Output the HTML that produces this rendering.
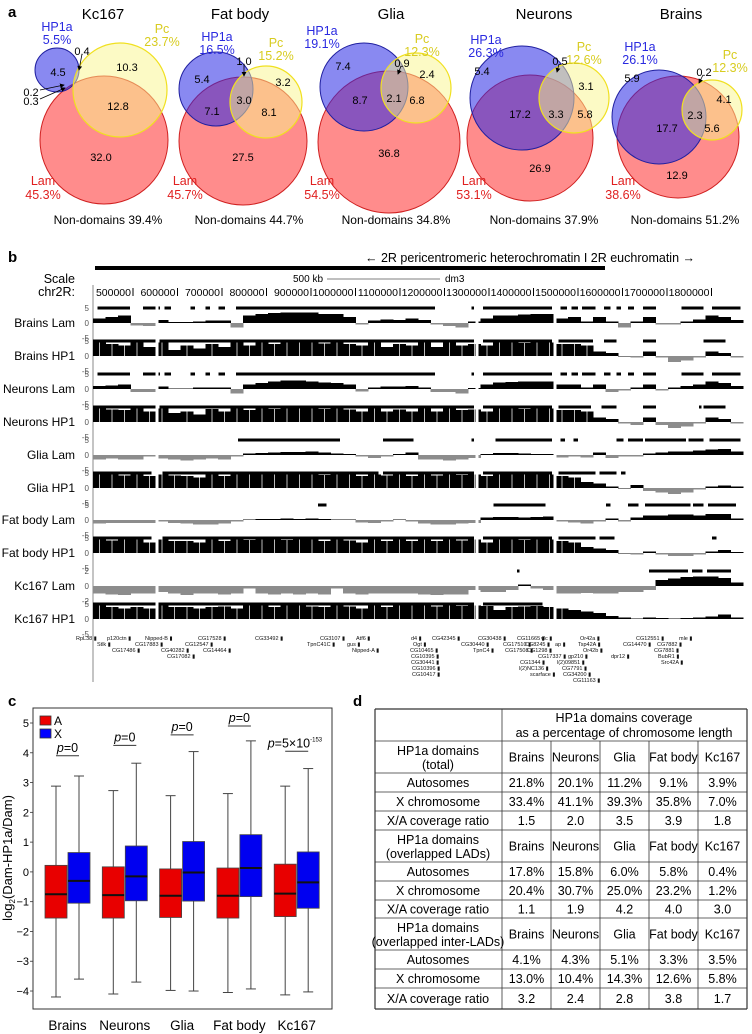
<!DOCTYPE html>
<html><head><meta charset="utf-8"><style>
body{margin:0;background:#fff;}
svg{display:block;font-family:"Liberation Sans",Arial,sans-serif;}
</style></head><body>
<svg id="fig" width="752" height="1034" viewBox="0 0 752 1034" xmlns="http://www.w3.org/2000/svg">
<defs><marker id="ah" markerWidth="6" markerHeight="6" refX="5" refY="3" orient="auto"><path d="M0,0 L6,3 L0,6 z" fill="#000"/></marker></defs>
<g>
<text x="8" y="17" font-size="15" font-weight="bold">a</text>
<g font-size="15" text-anchor="middle">
<text x="103" y="19">Kc167</text>
<text x="240" y="19">Fat body</text>
<text x="391" y="19">Glia</text>
<text x="544" y="19">Neurons</text>
<text x="681" y="19">Brains</text>
</g>
<g id="venns"></g>
</g>
<g>
<text x="8" y="262" font-size="15" font-weight="bold">b</text>
<rect x="95" y="266" width="510" height="4" fill="#000"/>
<text x="365" y="262" font-size="12.5">←  2R pericentromeric heterochromatin  I  2R euchromatin  →</text>
<text x="75" y="283" font-size="12.5" text-anchor="end">Scale</text>
<text x="75" y="296" font-size="12.5" text-anchor="end">chr2R:</text>
<text x="293" y="282" font-size="10">500 kb</text>
<line x1="327" y1="279" x2="440" y2="279" stroke="#555" stroke-width="0.8"/>
<text x="445" y="282" font-size="10">dm3</text>
<line x1="93" y1="285" x2="93" y2="682" stroke="#888" stroke-width="1"/>
<g id="tracks" shape-rendering="crispEdges"></g>
<g id="genes" font-size="5.5" fill="#111"></g>
</g>
<g>
<text x="8" y="706" font-size="15" font-weight="bold">c</text>
<rect x="33" y="708" width="299" height="301" fill="none" stroke="#333" stroke-width="1"/>
<text transform="translate(12,858) rotate(-90)" font-size="13" text-anchor="middle">log<tspan font-size="8" dy="3">2</tspan><tspan dy="-3">(Dam-HP1a/Dam)</tspan></text>
<g id="boxes"></g>
<g>
<rect x="40" y="716" width="11" height="9" fill="#e00" stroke="#333" stroke-width="0.8"/>
<text x="54" y="725" font-size="12">A</text>
<rect x="40" y="729" width="11" height="9" fill="#00f" stroke="#333" stroke-width="0.8"/>
<text x="54" y="738" font-size="12">X</text>
</g>
</g>
<g>
<text x="353" y="706" font-size="15" font-weight="bold">d</text>
<g id="table"></g>
</g>
</svg>
<script>
const NS="http://www.w3.org/2000/svg";
function mk(tag,attrs,parent,txt){const e=document.createElementNS(NS,tag);for(const k in attrs)e.setAttribute(k,attrs[k]);if(txt!==undefined)e.textContent=txt;parent.appendChild(e);return e;}

const vennG=document.getElementById('venns');
const vennNames=['kc167','fat-body','glia','neurons','brains'];
const lamCircles=[[104,140,64],[243,141,64],[389,142,71],[530,138,63],[678,137,61]];
const hp1Circles=[[57,70,22],[216,89,37],[364,87,44],[522,98,52],[659,117,47]];
const pcCircles=[[120,90,47],[266,102,36],[416,88,35],[574,98,35],[712,110,30]];
const hp1Pct=['5.5%','16.5%','19.1%','26.3%','26.1%'];
const pcPct=['23.7%','15.2%','12.3%','12.6%','12.3%'];
const lamPct=['45.3%','45.7%','54.5%','53.1%','38.6%'];
const nonDomains=['39.4%','44.7%','34.8%','37.9%','51.2%'];
const hp1Lbl=[[57,31],[217,41],[322,35],[486,44],[640,51]];
const pcLbl=[[162,33],[276,47],[422,43],[584,51],[730,59]];
const lamLbl=[[43,185],[185,185],[322,185],[474,185],[623,185]];
const ndX=[108,249,396,544,685];
const regionVals=[
 [['4.5',58,72],['0.4',82,51],['10.3',127,67],['0.2',31,92],['0.3',31,101],['12.8',118,106],['32.0',101,157]],
 [['5.4',202,79],['1.0',244,61],['3.2',283,82],['7.1',212,111],['3.0',244,100],['8.1',269,112],['27.5',243,157]],
 [['7.4',343,66],['0.9',402,63],['2.4',427,74],['8.7',360,100],['2.1',394,98],['6.8',417,100],['36.8',389,153]],
 [['5.4',482,71],['0.5',560,61],['3.1',586,86],['17.2',520,114],['3.3',556,114],['5.8',585,114],['26.9',540,168]],
 [['5.9',632,78],['0.2',704,72],['4.1',724,99],['17.7',667,128],['2.3',695,115],['5.6',712,128],['12.9',677,175]]
];
vennNames.forEach((nm,i)=>{
  const g=mk('g',{},vennG);
  
  
  const L=lamCircles[i],H=hp1Circles[i],P=pcCircles[i];
  const cl=mk('circle',{cx:L[0],cy:L[1],r:L[2],fill:'rgba(255,70,70,0.62)',stroke:'#d02020','stroke-width':1},g);
  
  
  const ch=mk('circle',{cx:H[0],cy:H[1],r:H[2],fill:'rgba(40,40,230,0.55)',stroke:'#2020a0','stroke-width':1},g);
  
  
  const cp=mk('circle',{cx:P[0],cy:P[1],r:P[2],fill:'rgba(250,245,140,0.5)',stroke:'#f0e020','stroke-width':1.2},g);
  
  
  const t1=mk('text',{x:hp1Lbl[i][0],y:hp1Lbl[i][1],'font-size':12.5,fill:'#2a2ae0','text-anchor':'middle'},g,'HP1a');
  
  
  mk('text',{x:hp1Lbl[i][0],y:hp1Lbl[i][1]+13,'font-size':12.5,fill:'#2a2ae0','text-anchor':'middle'},g,hp1Pct[i]);
  const t2=mk('text',{x:pcLbl[i][0],y:pcLbl[i][1],'font-size':12.5,fill:'#d8cc20','text-anchor':'middle'},g,'Pc');
  
  
  mk('text',{x:pcLbl[i][0],y:pcLbl[i][1]+13,'font-size':12.5,fill:'#d8cc20','text-anchor':'middle'},g,pcPct[i]);
  const t3=mk('text',{x:lamLbl[i][0],y:lamLbl[i][1],'font-size':12.5,fill:'#e02020','text-anchor':'middle'},g,'Lam');
  
  
  mk('text',{x:lamLbl[i][0],y:lamLbl[i][1]+14,'font-size':12.5,fill:'#e02020','text-anchor':'middle'},g,lamPct[i]);
  const t4=mk('text',{x:ndX[i],y:224,'font-size':12,'text-anchor':'middle'},g,'Non-domains '+nonDomains[i]);
  
  
  regionVals[i].forEach(r=>{
    const t=mk('text',{x:r[1],y:r[2]+4,'font-size':11,'text-anchor':'middle'},g,r[0]);
    
    
  });
});
[[82,54,79,70],[40,90,64,85],[40,99,65,88],[244,64,244,76],[401,66,398,74],[559,64,557,72],[703,75,699,83]].forEach(a=>{
  const l=mk('line',{x1:a[0],y1:a[1],x2:a[2],y2:a[3],stroke:'#000','stroke-width':0.8,'marker-end':'url(#ah)'},vennG);
  
  
});

const tracksG=document.getElementById('tracks');
const tickKb=[500,600,700,800,900,1000,1100,1200,1300,1400,1500,1600,1700,1800];
const binStartKb=410, binKb=28.1, nBins=52;
function gx(kb){return 133+(kb-500)*0.445;}
tickKb.forEach(k=>{
  const t=mk('text',{x:gx(k)-2,y:296,'font-size':10.5,'text-anchor':'end'},tracksG,String(k*1000));
  
  
  mk('line',{x1:gx(k),y1:288,x2:gx(k),y2:296,stroke:'#000','stroke-width':0.6},tracksG);
});
const trackNames=['Brains Lam','Brains HP1','Neurons Lam','Neurons HP1','Glia Lam','Glia HP1','Fat body Lam','Fat body HP1','Kc167 Lam','Kc167 HP1'];
const trackZeroY=[323,356,389,422,455,488,520,553,586,619];
const trackMax=[5,5,5,5,5,5,5,5,2,5];
const brainsLam=[1.5,2,2.5,-0.8,-1,1,0.3,0.3,0.5,0.8,0.8,-1.5,2.5,3,3.3,3.5,3.5,3.5,3,3,2,-0.5,0.8,1.2,1,1.5,1,-0.5,-1,-1.5,0.5,1.5,2.5,2.5,2.8,3,3,1.5,2,0.5,2,0.5,-1.5,0.5,2,-0.5,-0.5,0.5,1.2,2.5,2,1];
const brainsHP1=[4.5,4,3.5,4.5,3,4.5,2,3.5,2.5,4,3,4.5,3.5,4.5,4,4.5,4.5,4.5,4.2,4.5,4,3.5,4.5,3,4,3.5,4.5,3,4.5,3.5,4,3.5,4.5,4.5,4.3,4.5,4.5,4,4,3.5,1.5,1,0,-0.5,1.5,-0.5,-2,-1.5,-0.5,1.5,1,-0.5];
const neuronsLam=[1,1.2,1.5,-1,-1,0.8,0.2,0.2,0.5,0.5,0.5,-1.5,1.5,2,2.5,2.8,2.8,2.5,2.2,2,1.5,-0.8,0.5,0.8,0.8,1,0.5,-1,-1,-1.5,0.3,1.5,2.2,2.3,2.5,2.5,2.5,1.5,1.5,0.5,1.5,-1,-0.5,0.5,1.5,-0.5,0.5,1,1.5,2.5,2,1];
const neuronsHP1=[4.5,4.2,4,4.5,3.5,4.5,3,3.5,2.5,4.3,3.5,4.5,4,4.5,4.3,4.5,4.5,4.5,4.3,4.5,4.2,3.5,4.5,3.5,4.2,3.5,4.5,3.5,4.5,4,4.2,3.5,4.5,4.5,4.3,4.5,4.5,4,4,3.5,1.5,1,-0.5,-1,1.5,-1,-2,-1.5,-0.5,1.5,1,-0.5];
const gliaLam=[-1.5,-1.2,-1.5,-1.5,-0.5,-1.2,-1.5,-1.8,-1.5,-1.2,-1.5,-0.5,0.5,0.7,0.8,1,1,1.2,0.8,0.5,0.3,-0.5,-1,-0.5,0.3,0.8,-1.5,-1.5,-1.8,-1.5,-1,0.3,0.6,0.6,0.5,0.4,0.3,-0.8,-0.5,-0.8,0.8,-1,-0.5,-0.5,0.5,0.8,1.2,1.2,1.5,1.8,2,1.2];
const gliaHP1=[4.5,4.5,4.2,4.5,4,4.5,4.2,4,3.5,4.5,4,4.5,4.5,4.5,4.5,4.5,4.5,4.5,4.3,4.5,4.5,4,4.5,4.2,4.5,4,4.5,4.2,4.5,4.3,4.5,4,4.5,4.5,4.5,4.5,4.5,4,3.5,2,1.5,0.5,0,1,-1,-1.5,-2,-1.5,-0.5,0.5,0.8,0.5];
const fatLam=[-1.2,-1,-1,-1,-1,-0.5,-1,-1.2,-1.5,-1.5,-1.2,-0.5,0.2,0.3,0.3,0.5,0.3,0.5,0.3,0.2,0.2,-0.8,-1,-0.5,0.2,-0.5,-1.2,-1.5,-1.5,-1.2,-1,0.8,1,1,0.8,1,1.2,-0.5,-0.8,-1.2,-0.5,0.5,-0.5,0.8,1.5,1.5,1.8,1.8,1.5,2,2,0.5];
const fatHP1=[4.5,4.2,4.5,4.5,3.5,4.5,4,4,3.5,4.5,4,4.5,4.3,4.5,4.5,4.3,4.5,4.5,4,4.5,4.2,3.5,4.5,4,4.5,4,4.5,4,4.5,4.2,4.5,3.5,4.5,4.5,4.3,4.5,4.5,4,3.5,2,1.5,1,0,-0.5,0.5,-0.5,-1,-1,-0.5,0.5,1,0.3];
const kcLam=[-1,-1.1,-1.2,-1,-1,-0.8,-1,-1.2,-1,-1,-1.1,-1,-0.3,-1,-1.1,-1,-1.1,-1,-1.1,-0.3,-1,-1.1,-1,-1,-1,-1,-1.1,-1.2,-1.1,-1.1,-0.5,-0.8,-0.8,-0.5,0.2,-0.3,-0.5,-1,-1,-0.9,-1,-1,-0.8,-0.8,-0.5,0.8,1,1.2,1.3,1.3,1.1,0.5];
const kcHP1=[4.5,4,3.5,4,3.5,4.5,4,4,3.5,4,4.2,3.5,4.5,4.5,4,4.5,4.5,4.2,4,4.5,4.2,3.5,4.5,4,4.5,4.5,4.5,4.2,4.5,4.3,4.5,4.3,3,4,4.2,4.3,4,3.5,3,2.5,2,1,0.5,0.2,0.5,0.3,0.2,0.3,0.5,0.8,1.5,0.5];
const trackValues=[brainsLam,brainsHP1,neuronsLam,neuronsHP1,gliaLam,gliaHP1,fatLam,fatHP1,kcLam,kcHP1];
const lamDomA=[[420,493],[522,561],[571,585],[629,639],[663,673],[692,707],[731,1179],[1261,1266],[1286,1441],[1461,1475],[1485,1500],[1509,1539],[1558,1573],[1587,1597],[1612,1626],[1646,1675],[1733,1782],[1801,1865]];
const hp1DomBrains=[[410,551],[560,1266],[1286,1441],[1456,1534],[1558,1587],[1646,1675],[1782,1831]];
const hp1DomNeurons=[[410,551],[560,1266],[1286,1441],[1456,1529],[1553,1587],[1646,1675],[1772,1777],[1782,1831]];
const gliaLamDom=[[736,965],[1062,1130],[1261,1266],[1315,1441],[1461,1471],[1490,1500],[1587,1602],[1612,1646],[1651,1743],[1748,1782],[1796,1865]];
const gliaHP1Dom=[[410,541],[566,1052],[1062,1266],[1286,1441],[1456,1539],[1548,1587],[1597,1607]];
const fatLamDom=[[916,935],[1310,1427],[1563,1573],[1612,1636],[1651,1753],[1758,1782],[1792,1855]];
const fatHP1Dom=[[410,541],[566,1266],[1286,1441],[1456,1539],[1548,1582],[1801,1811]];
const kcLamDom=[[1363,1368],[1659,1747],[1756,1780],[1790,1844]];
const kcHP1Dom=[[410,1266],[1286,1420]];
const trackDomains=[lamDomA,hp1DomBrains,lamDomA,hp1DomNeurons,gliaLamDom,gliaHP1Dom,fatLamDom,fatHP1Dom,kcLamDom,kcHP1Dom];
const dataGapsKb=[554,1273,1448];
trackNames.forEach((nm,ti)=>{
  const g=mk('g',{},tracksG);
  
  
  const z=trackZeroY[ti], mx=trackMax[ti], ppu=15/mx, isHP1=nm.indexOf('HP1')>=0;
  const lb=mk('text',{x:75,y:z+4,'font-size':12,'text-anchor':'end'},g,nm);
  
  
  [[mx,-15],[0,0],[-mx,15]].forEach(t=>{
    mk('text',{x:89,y:z+t[1]+3,'font-size':8,fill:'#555','text-anchor':'end'},g,String(t[0]));
  });
  trackValues[ti].forEach((v,i)=>{
    const x0=gx(binStartKb+i*binKb), x1=gx(binStartKb+(i+1)*binKb);
    const h=Math.min(Math.abs(v),mx)*ppu;
    const r=mk('rect',{x:x0.toFixed(2),y:(v>=0?z-h:z).toFixed(2),width:(x1-x0+0.3).toFixed(2),height:Math.max(h,0.6).toFixed(2),fill:v>=0?'#000':'#8c8c8c'},g);
    
    
    if(isHP1&&v>3){mk('rect',{x:(x0+6).toFixed(2),y:(z-h).toFixed(2),width:0.8,height:h.toFixed(2),fill:'#bbb'},g);}
  });
  trackDomains[ti].forEach(d=>{
    const r=mk('rect',{x:gx(d[0]).toFixed(2),y:z-16.5,width:(gx(d[1])-gx(d[0])).toFixed(2),height:3,fill:'#000'},g);
    
    
  });
  dataGapsKb.forEach(k=>{mk('rect',{x:gx(k)-1.5,y:z-17,width:3,height:33,fill:'#fff'},g);});
});
const genesG=document.getElementById('genes');
const geneNames=['RpL38','p120ctn','Nipped-B','CG17528','CG33492','CG3107','Atf6','d4','CG42345','CG30438','CG11665','vlc','Or42a','CG12551','mle',
'Stlk','CG17883','CG12547','TpnC41C','gus','Ogt','CG30440','CG17510','CG8245','ap','Tsp42A','CG14470','CG7882',
'CG17486','CG40282','CG14464','Nipped-A','CG10465','TpnC4','CG17508','CG1298','Or42b','CG7881',
'CG17082','CG10395','CG17337','gp210','dpr12','BubR1','CG30441','CG1344','l(2)09851','Src42A','CG10396','l(2)NC136','CG7791','CG10417','scarface','CG34200','CG11163'];
const geneX=[76,107,145,198,255,320,356,411,432,478,517,541,580,636,679,
97,135,185,307,347,413,461,503,525,555,578,623,657,
112,161,203,352,410,473,505,527,583,654,
167,411,538,568,611,658,411,520,557,661,412,519,562,412,530,563,573];
const geneY=[640,640,640,640,640,640,640,640,640,640,640,640,640,640,640,
646,646,646,646,646,646,646,646,646,646,646,646,646,
652,652,652,652,652,652,652,652,652,652,
658,658,658,658,658,658,664,664,664,664,670,670,670,676,676,676,682];
geneNames.forEach((n,i)=>{
  const t=mk('text',{x:geneX[i],y:geneY[i]},genesG,n+' ▮');
  
  
});

const boxG=document.getElementById('boxes');
const categories=['Brains','Neurons','Glia','Fat body','Kc167'];
const aLow=[-4.2,-4.1,-3.98,-4.05,-4.13], aQ1=[-1.55,-1.55,-1.53,-1.55,-1.5], aMed=[-0.75,-0.78,-0.8,-0.8,-0.73], aQ3=[0.22,0.17,0.1,0.13,0.26], aHigh=[2.88,2.73,2.56,2.63,2.88];
const xLow=[-3.6,-3.7,-4.0,-3.93,-4.03], xQ1=[-1.05,-0.97,-0.98,-0.83,-1.22], xMed=[-0.3,-0.15,-0.02,0.13,-0.35], xQ3=[0.65,0.87,1.02,1.25,0.67], xHigh=[3.22,3.65,4.04,4.4,3.47];
const pLabels=['0','0','0','0','5×10'];
const pLevels=[3.9,4.25,4.6,4.9,4.05];
const yTicks=[5,4,3,2,1,0,-1,-2,-3,-4];
function yv(v){return 723+(5-v)*29.78;}
function cx(i){return 67.5+i*57.3;}
yTicks.forEach(t=>{
  const l=mk('line',{x1:30,y1:yv(t),x2:33,y2:yv(t),stroke:'#333','stroke-width':0.8},boxG);
  
  
  const tx=mk('text',{x:29,y:yv(t)+4,'font-size':11,'text-anchor':'end'},boxG,(t<0?'−':'')+Math.abs(t));
  
  
});
function drawBox(c,lo,q1,md,q3,hi,fill,nm){
  const g=mk('g',{},boxG);
  
  
  mk('line',{x1:c,y1:yv(hi),x2:c,y2:yv(lo),stroke:'#444','stroke-width':1},g);
  mk('line',{x1:c-5,y1:yv(hi),x2:c+5,y2:yv(hi),stroke:'#444','stroke-width':1},g);
  mk('line',{x1:c-5,y1:yv(lo),x2:c+5,y2:yv(lo),stroke:'#444','stroke-width':1},g);
  mk('rect',{x:c-11,y:yv(q3),width:22,height:yv(q1)-yv(q3),fill:fill,stroke:'#444','stroke-width':0.8},g);
  mk('line',{x1:c-11,y1:yv(md),x2:c+11,y2:yv(md),stroke:'#111','stroke-width':2},g);
}
categories.forEach((c,i)=>{
  drawBox(cx(i)-11.5,aLow[i],aQ1[i],aMed[i],aQ3[i],aHigh[i],'#e80000','box-a-'+c.toLowerCase().replace(' ','-'));
  drawBox(cx(i)+11.5,xLow[i],xQ1[i],xMed[i],xQ3[i],xHigh[i],'#0000f0','box-x-'+c.toLowerCase().replace(' ','-'));
  const lab=mk('text',{x:cx(i),y:1030,'font-size':13.5,'text-anchor':'middle'},boxG,c);
  
  
  const py=yv(pLevels[i]);
  const ln=mk('line',{x1:cx(i)-11.5,y1:py,x2:cx(i)+11.5,y2:py,stroke:'#333','stroke-width':1},boxG);
  
  
  const pt=mk('text',{x:i===4?cx(i)-29:cx(i),y:py-4,'font-size':12.5,'text-anchor':i===4?'start':'middle'},boxG);
  
  
  mk('tspan',{'font-style':'italic'},pt,'p');
  mk('tspan',{},pt,'='+pLabels[i]);
  if(i===4){mk('tspan',{'font-size':6,dy:-6},pt,'-153');}
});

const tG=document.getElementById('table');
const colX=[375,502,551,600,649,698,747];
const rowY=[709,741,773,792,811,830,862,881,900,918,950,969,988,1009];
const rowLabels=[['HP1a domains','(total)'],['Autosomes'],['X chromosome'],['X/A coverage ratio'],['HP1a domains','(overlapped LADs)'],['Autosomes'],['X chromosome'],['X/A coverage ratio'],['HP1a domains','(overlapped inter-LADs)'],['Autosomes'],['X chromosome'],['X/A coverage ratio']];
const colHeads=['Brains','Neurons','Glia','Fat body','Kc167'];
const autoTotal=['21.8%','20.1%','11.2%','9.1%','3.9%'], xTotal=['33.4%','41.1%','39.3%','35.8%','7.0%'], ratioTotal=['1.5','2.0','3.5','3.9','1.8'];
const autoLad=['17.8%','15.8%','6.0%','5.8%','0.4%'], xLad=['20.4%','30.7%','25.0%','23.2%','1.2%'], ratioLad=['1.1','1.9','4.2','4.0','3.0'];
const autoInter=['4.1%','4.3%','5.1%','3.3%','3.5%'], xInter=['13.0%','10.4%','14.3%','12.6%','5.8%'], ratioInter=['3.2','2.4','2.8','3.8','1.7'];
const tableRows=[colHeads,autoTotal,xTotal,ratioTotal,colHeads,autoLad,xLad,ratioLad,colHeads,autoInter,xInter,ratioInter];
rowY.forEach((y,i)=>{mk('line',{x1:375,y1:y,x2:747,y2:y,stroke:'#333','stroke-width':i===0||i===rowY.length-1?1.2:0.8},tG);});
mk('line',{x1:375,y1:709,x2:375,y2:1009,stroke:'#333','stroke-width':1.2},tG);
mk('line',{x1:747,y1:709,x2:747,y2:1009,stroke:'#333','stroke-width':1.2},tG);
mk('line',{x1:502,y1:709,x2:502,y2:1009,stroke:'#333','stroke-width':0.8},tG);
for(let c=2;c<6;c++)mk('line',{x1:colX[c],y1:741,x2:colX[c],y2:1009,stroke:'#333','stroke-width':0.8},tG);
const h1=mk('text',{x:624,y:722,'font-size':12.5,'text-anchor':'middle'},tG,'HP1a domains coverage');


mk('text',{x:624,y:737,'font-size':12.5,'text-anchor':'middle'},tG,'as a percentage of chromosome length');
rowLabels.forEach((lab,r)=>{
  const y0=rowY[r+1],y1=rowY[r+2],ym=(y0+y1)/2;
  const t=mk('text',{x:438,y:lab.length===2?ym-2:ym+4.5,'font-size':12.5,'text-anchor':'middle'},tG,lab[0]);
  
  
  if(lab.length===2)mk('text',{x:438,y:ym+12,'font-size':12.5,'text-anchor':'middle'},tG,lab[1]);
  tableRows[r].forEach((v,c)=>{
    const cell=mk('text',{x:(colX[c+1]+colX[c+2])/2,y:ym+4.5,'font-size':12.5,'text-anchor':'middle'},tG,v);
    
    
  });
});
</script>
</body></html>
